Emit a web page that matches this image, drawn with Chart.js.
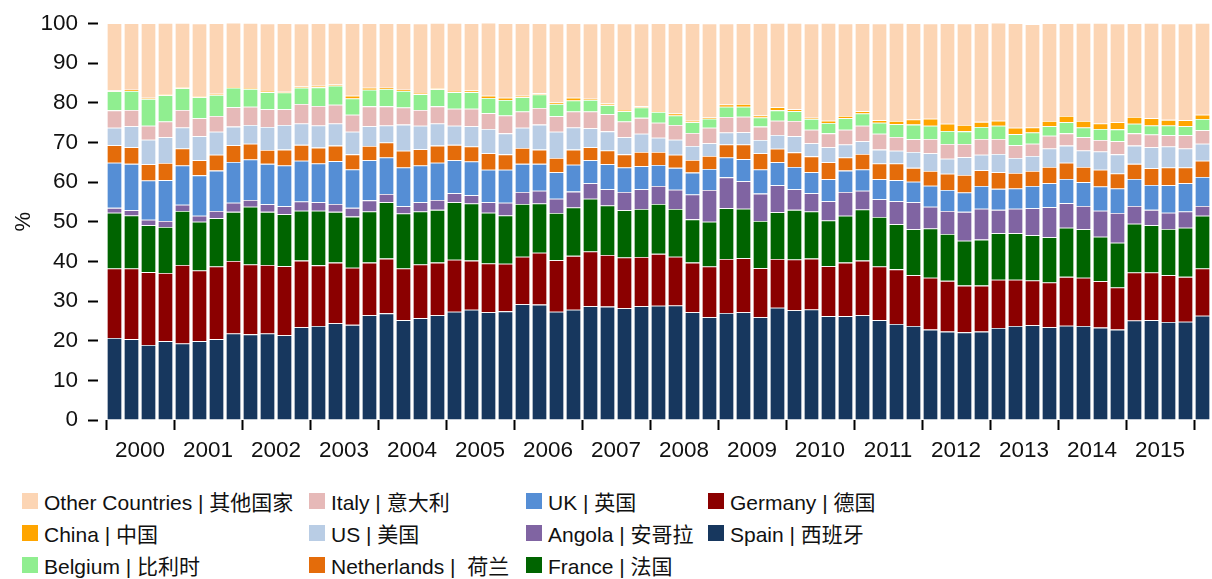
<!DOCTYPE html>
<html>
<head>
<meta charset="utf-8">
<script src="https://cdn.jsdelivr.net/npm/chart.js@4"></script>
<style>
  html, body { margin: 0; padding: 0; background: #fff; }
  body { width: 1212px; height: 579px; position: relative; overflow: hidden;
         font-family: "Liberation Sans", Arial, "Noto Sans CJK SC", sans-serif; }
  #chart-wrap { position: absolute; left: 0; top: 0; width: 1212px; height: 470px; }
  #legend { position: absolute; left: 22px; top: 485px;
            display: grid; grid-auto-flow: column;
            grid-template-rows: repeat(3, 32px);
            grid-template-columns: 287px 217px 182px 260px; }
  .item { display: flex; align-items: center; font-size: 21px; color: #111; white-space: pre; }
  .swatch { width: 16px; height: 16px; margin-right: 6px; flex: none; }
</style>
</head>
<body>
<div id="chart-wrap"><canvas id="shareChart"></canvas></div>
<div id="legend"></div>
<script>
// quarterly shares (%), Q1 2000 .. Q1 2016
const quarters = [
  '2000 Q1','2000 Q2','2000 Q3','2000 Q4','2001 Q1','2001 Q2','2001 Q3','2001 Q4',
  '2002 Q1','2002 Q2','2002 Q3','2002 Q4','2003 Q1','2003 Q2','2003 Q3','2003 Q4',
  '2004 Q1','2004 Q2','2004 Q3','2004 Q4','2005 Q1','2005 Q2','2005 Q3','2005 Q4',
  '2006 Q1','2006 Q2','2006 Q3','2006 Q4','2007 Q1','2007 Q2','2007 Q3','2007 Q4',
  '2008 Q1','2008 Q2','2008 Q3','2008 Q4','2009 Q1','2009 Q2','2009 Q3','2009 Q4',
  '2010 Q1','2010 Q2','2010 Q3','2010 Q4','2011 Q1','2011 Q2','2011 Q3','2011 Q4',
  '2012 Q1','2012 Q2','2012 Q3','2012 Q4','2013 Q1','2013 Q2','2013 Q3','2013 Q4',
  '2014 Q1','2014 Q2','2014 Q3','2014 Q4','2015 Q1','2015 Q2','2015 Q3','2015 Q4',
  '2016 Q1'
];
const yearLabels = ['2000','2001','2002','2003','2004','2005','2006','2007',
                    '2008','2009','2010','2011','2012','2013','2014','2015'];
const yTicks = [0, 10, 20, 30, 40, 50, 60, 70, 80, 90, 100];

const spain = [20.7,20.4,18.9,19.9,19.3,19.9,20.4,21.8,21.6,21.8,21.4,23.4,23.7,24.4,24.0,26.4,
  26.9,25.2,25.7,26.4,27.3,27.8,27.2,27.4,29.2,29.1,27.3,27.8,28.7,28.6,28.2,28.7,
  28.8,28.9,27.2,25.9,27.0,27.2,25.9,28.3,27.7,27.9,26.2,26.2,26.4,25.2,24.2,23.7,
  22.8,22.3,22.1,22.3,23.2,23.7,23.9,23.4,23.8,23.7,23.3,22.8,25.1,25.2,24.7,24.8,26.3];
const germany = [17.5,17.8,18.4,17.2,19.8,17.8,18.3,18.3,17.6,17.3,17.4,16.8,15.3,15.3,14.4,13.3,
  13.8,13.0,13.5,13.3,13.1,12.4,12.3,12.0,12.0,13.1,13.0,13.6,13.8,13.0,12.8,12.4,
  13.1,12.3,12.5,12.8,13.6,13.6,12.4,12.3,12.8,12.8,12.6,13.5,13.8,13.5,13.8,12.8,
  13.1,12.8,11.8,11.6,12.2,11.7,11.3,11.3,12.3,12.2,11.7,10.6,12.1,12.0,11.8,11.3,11.9];
const france = [14.1,13.4,11.8,11.6,13.6,12.3,12.2,12.4,14.6,13.4,13.1,12.6,13.8,12.8,12.9,12.9,
  14.2,13.9,13.4,13.3,14.5,14.4,12.8,12.2,13.3,12.4,11.9,12.2,13.3,12.5,11.9,12.1,
  12.6,12.0,10.9,11.3,12.8,12.5,11.9,11.8,12.5,11.9,11.5,11.8,12.9,12.5,11.4,11.6,
  12.4,11.8,11.3,11.6,11.7,11.7,11.4,11.4,12.4,12.2,11.2,11.3,12.3,11.9,11.7,12.4,13.3];
const angola = [1.2,1.3,1.4,1.5,1.6,1.5,1.8,2.3,1.7,1.9,2.0,2.3,2.1,2.0,2.2,2.8,
  2.1,1.8,2.3,2.5,2.3,2.1,2.6,3.2,3.0,3.2,3.6,4.0,3.9,4.1,4.6,5.0,
  4.5,4.9,6.3,8.0,7.8,6.9,6.9,6.8,5.2,4.6,4.9,6.0,4.7,4.5,5.8,6.8,
  5.5,5.8,7.3,7.8,5.9,6.2,6.8,7.6,6.2,5.9,6.6,7.5,4.5,3.9,4.1,4.1,2.5];
const uk = [11.4,11.7,9.9,10.3,9.9,10.2,10.2,10.3,10.2,10.2,10.3,10.3,9.8,10.8,9.7,10.1,
  9.2,9.8,9.3,9.4,8.3,8.5,8.2,8.3,7.1,6.8,6.7,6.8,5.8,6.3,6.2,5.8,
  5.3,5.5,5.5,5.3,5.0,5.6,6.1,5.8,5.6,5.3,5.5,5.4,5.4,5.0,5.3,5.2,
  5.3,5.3,4.9,5.7,5.3,5.1,5.6,6.0,6.1,6.0,6.1,6.2,6.8,6.3,6.9,7.1,7.3];
const netherlands = [4.4,4.2,4.1,4.3,4.3,3.8,4.0,4.2,4.0,3.5,4.0,4.0,4.0,3.9,3.8,3.6,
  3.8,4.2,4.1,4.3,3.9,3.8,4.2,3.9,4.0,3.6,3.6,3.8,3.3,3.5,3.3,3.6,
  3.3,3.3,3.2,3.3,3.3,3.7,4.1,3.4,3.7,4.0,4.3,3.3,3.9,4.0,4.2,3.5,
  3.7,4.1,4.4,4.0,4.2,3.9,3.8,4.1,4.1,3.8,4.2,3.8,3.8,4.2,4.5,4.0,4.1];
const us = [4.4,5.3,6.2,6.5,5.3,6.1,5.8,4.7,4.7,5.8,6.2,5.4,5.6,5.6,5.7,5.0,
  4.3,6.6,5.9,5.6,4.8,5.1,6.1,5.3,5.1,6.3,6.6,5.6,4.8,4.8,4.3,4.6,
  3.6,3.8,3.5,3.2,3.0,3.1,3.3,3.5,4.1,3.3,3.8,3.3,3.2,3.5,3.2,4.0,
  4.5,3.8,4.5,3.9,4.6,3.8,3.8,4.7,4.3,4.2,4.6,4.8,4.6,5.3,5.3,4.8,4.3];
const italy = [4.4,4.1,3.5,4.0,4.4,4.5,4.0,4.9,4.6,4.5,4.0,4.9,4.9,4.7,4.3,5.0,
  4.8,4.3,4.0,4.3,4.3,4.4,4.0,4.5,4.1,4.2,3.9,4.0,4.2,4.3,4.0,4.0,
  3.8,3.7,3.3,3.9,3.9,3.9,3.4,3.6,3.8,3.4,3.5,3.7,3.9,4.0,3.5,3.2,
  3.6,3.7,3.3,4.0,3.8,3.2,3.1,3.2,3.1,3.3,2.9,3.3,3.1,3.2,2.8,3.3,3.4];
const belgium = [4.8,4.8,6.8,6.6,5.5,5.3,5.3,4.9,4.5,4.3,4.2,4.1,4.7,4.8,4.1,4.2,
  4.4,4.2,4.0,4.3,4.2,4.2,3.8,3.9,3.6,3.4,3.1,2.8,2.9,2.3,2.6,2.6,
  2.7,2.4,2.7,2.3,2.6,2.5,2.3,2.6,2.5,2.7,2.6,2.9,3.1,2.8,3.2,3.7,
  3.3,3.3,3.2,3.0,3.3,2.8,2.8,2.4,2.8,2.5,2.8,3.0,2.4,2.3,2.5,2.3,2.8];
const china = [0.2,0.3,0.3,0.3,0.2,0.3,0.3,0.2,0.2,0.3,0.2,0.3,0.4,0.3,0.7,0.5,
  0.3,0.3,0.3,0.3,0.3,0.4,0.6,0.6,0.4,0.3,0.4,0.7,0.3,0.4,0.3,0.3,
  0.2,0.5,0.4,0.3,0.6,0.7,0.5,0.8,0.5,0.3,0.6,0.6,0.6,0.6,0.8,1.3,
  1.8,1.8,1.6,1.3,1.3,1.6,1.3,1.3,1.6,1.6,1.4,1.8,1.7,1.8,1.4,1.5,1.1];
const otherCountries = [17.0,16.8,18.8,18.0,16.3,18.3,17.8,16.3,16.5,17.0,17.3,15.9,15.8,15.6,18.3,16.3,
  16.3,16.8,17.5,16.5,17.2,17.0,18.5,18.8,18.3,17.7,19.9,18.8,19.0,20.3,21.8,20.9,
  22.2,22.8,24.6,23.7,20.4,20.4,23.3,21.3,21.8,23.8,24.7,23.3,22.2,24.4,24.8,24.3,
  24.0,25.4,25.6,24.9,24.8,26.4,26.0,24.7,23.4,24.8,25.4,24.9,23.7,24.1,24.3,24.4,23.2];

const FONT = '"Liberation Sans", Arial, "Noto Sans CJK SC", sans-serif';

// bottom of the stack first
const series = [
  { label: 'Spain | 西班牙', data: spain, color: '#17375e' },
  { label: 'Germany | 德国', data: germany, color: '#8b0000' },
  { label: 'France | 法国', data: france, color: '#006400' },
  { label: 'Angola | 安哥拉', data: angola, color: '#8064a2' },
  { label: 'UK | 英国', data: uk, color: '#558ed5' },
  { label: 'Netherlands |  荷兰', data: netherlands, color: '#e46c0a' },
  { label: 'US | 美国', data: us, color: '#b9cde5' },
  { label: 'Italy | 意大利', data: italy, color: '#e6b9b8' },
  { label: 'Belgium | 比利时', data: belgium, color: '#90ee90' },
  { label: 'China | 中国', data: china, color: '#ffa500' },
  { label: 'Other Countries | 其他国家', data: otherCountries, color: '#fcd5b4' }
];

const chart = new Chart(document.getElementById('shareChart'), {
    type: 'bar',
    data: {
        labels: quarters,
        datasets: series.map(s => ({
            label: s.label,
            data: s.data,
            backgroundColor: s.color,
            borderColor: 'rgba(255,255,255,0.45)',
            borderWidth: 0.8,
            barPercentage: 0.9,
            categoryPercentage: 1.0
        }))
    },
    options: {
        responsive: true,
        maintainAspectRatio: false,
        animation: false,
        layout: { padding: { top: 20, right: 1, left: 0, bottom: 0 } },
        plugins: {
            legend: { display: false },
            tooltip: { enabled: false }
        },
        scales: {
            x: {
                stacked: true,
                border: { display: false },
                grid: {
                    offset: true,
                    drawOnChartArea: false,
                    drawTicks: true,
                    tickLength: 10,
                    tickWidth: 2,
                    tickColor: ctx => (ctx.index % 4 === 0 ? '#000' : 'rgba(0,0,0,0)')
                },
                ticks: {
                    autoSkip: false,
                    maxRotation: 0,
                    minRotation: 0,
                    padding: 7,
                    labelOffset: 8.5,
                    color: '#111',
                    font: { family: FONT, size: 22.5 },
                    callback: (val, i) => (i % 4 === 1 ? yearLabels[Math.floor(i / 4)] : '')
                },
                afterFit: scale => { scale.height = 50; }
            },
            y: {
                stacked: true,
                min: 0,
                max: 100,
                border: { display: false },
                grid: {
                    drawOnChartArea: false,
                    drawTicks: true,
                    tickLength: 18,
                    tickWidth: 2,
                    tickColor: '#000',
                    tickBorderDash: [10, 8]
                },
                afterBuildTicks: scale => { scale.ticks = yTicks.map(v => ({ value: v })); },
                ticks: {
                    padding: 10,
                    color: '#111',
                    font: { family: FONT, size: 22.5 }
                },
                title: {
                    display: true,
                    text: '%',
                    color: '#111',
                    padding: { top: 11, bottom: 0 },
                    font: { family: FONT, size: 22 }
                },
                afterFit: scale => { scale.width = 106; }
            }
        }
    }
});

// legend: columns filled top to bottom, top of the stack first
const legendEl = document.getElementById('legend');
chart.data.datasets.slice().reverse().forEach(ds => {
    const item = document.createElement('div');
    item.className = 'item';
    const sw = document.createElement('span');
    sw.className = 'swatch';
    sw.style.background = ds.backgroundColor;
    const txt = document.createElement('span');
    txt.textContent = ds.label;
    item.appendChild(sw);
    item.appendChild(txt);
    legendEl.appendChild(item);
});
</script>
</body>
</html>
